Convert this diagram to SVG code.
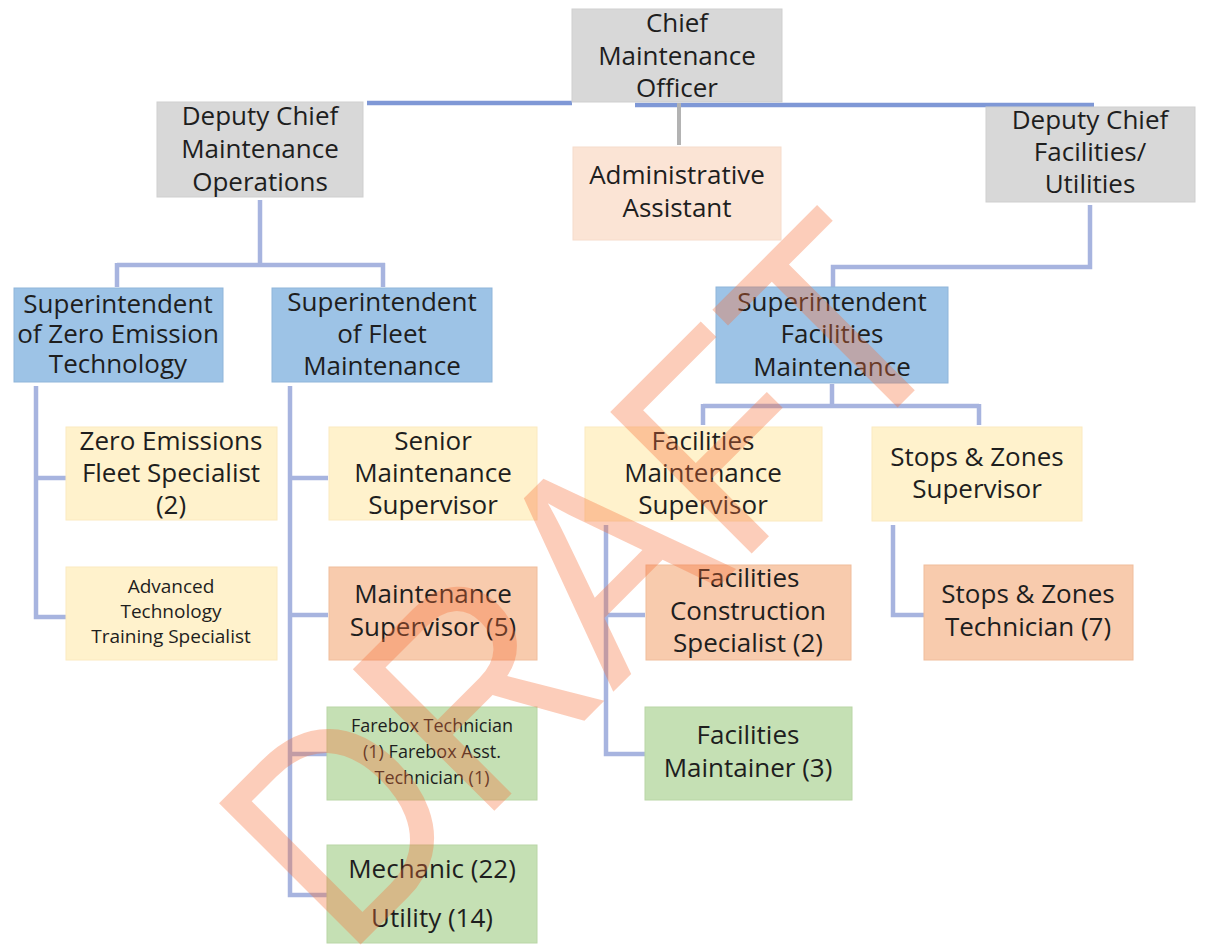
<svg xmlns="http://www.w3.org/2000/svg" width="1205" height="947" viewBox="0 0 1205 947">
<style>
.bx{stroke-width:1}
.gray{fill:#d8d8d8;stroke:#cfcfcf}
.blue{fill:#9dc3e6;stroke:#8fb5da}
.peach{fill:#fbe4d5;stroke:#f6dccb}
.yel{fill:#fff2cc;stroke:#fbeac0}
.org{fill:#f8cbad;stroke:#f0bd9c}
.grn{fill:#c5e0b4;stroke:#b9d6a6}
text{font-family:"Open Sans","Noto Sans","Liberation Sans",sans-serif;fill:#1e1e1e;text-anchor:middle}
.t{font-size:26px}
.s{font-size:19px}
.fs{font-size:18px}
.c{fill:none;stroke:#a7b4df;stroke-width:4.5}
.ct{fill:none;stroke:#7f98d6;stroke-width:4.5}
.cg{fill:none;stroke:#b3b3b3;stroke-width:4}
.wm{font-family:"Liberation Sans",Arial,sans-serif;font-size:262px;fill:#f7703a;fill-opacity:0.35;text-anchor:middle}
</style>
<rect width="1205" height="947" fill="#ffffff"/>
<g id="connectors">
<path class="ct" d="M367 103 H572"/>
<path class="ct" d="M635 105 H1094"/>
<path class="cg" d="M679 103 V145"/>
<path class="c" d="M260 200 V265 M117 265 H385 M117 263 V287 M383 263 V287"/>
<path class="c" d="M1090 205 V267 H833 V287"/>
<path class="c" d="M36 386 V617 H66 M36 478 H66"/>
<path class="c" d="M290 386 V895 H327 M290 478 H328 M290 615 H328 M290 754 H327"/>
<path class="c" d="M832 384 V406 M703 406 H979 M703 404 V425 M979 404 V425"/>
<path class="c" d="M606 525 V754 H645 M606 615 H645"/>
<path class="c" d="M893 525 V615 H924"/>
</g>
<g id="chief">
<rect class="bx gray" x="572" y="9" width="210" height="93"/>
<text class="t" x="677" y="32">Chief</text>
<text class="t" x="677" y="65">Maintenance</text>
<text class="t" x="677" y="97">Officer</text>
</g>
<g id="deputy-ops">
<rect class="bx gray" x="157" y="102" width="206" height="95"/>
<text class="t" x="260" y="125">Deputy Chief</text>
<text class="t" x="260" y="158">Maintenance</text>
<text class="t" x="260" y="191">Operations</text>
</g>
<g id="admin">
<rect class="bx peach" x="573" y="147" width="208" height="93"/>
<text class="t" x="677" y="184">Administrative</text>
<text class="t" x="677" y="217">Assistant</text>
</g>
<g id="deputy-fac">
<rect class="bx gray" x="986" y="107" width="209" height="95"/>
<text class="t" x="1090" y="129">Deputy Chief</text>
<text class="t" x="1090" y="161">Facilities/</text>
<text class="t" x="1090" y="193">Utilities</text>
</g>
<g id="sup-ze">
<rect class="bx blue" x="14" y="288" width="209" height="94"/>
<text class="t" x="118" y="313">Superintendent</text>
<text class="t" x="118" y="343">of Zero Emission</text>
<text class="t" x="118" y="373">Technology</text>
</g>
<g id="sup-fleet">
<rect class="bx blue" x="272" y="288" width="220" height="94"/>
<text class="t" x="382" y="311">Superintendent</text>
<text class="t" x="382" y="343">of Fleet</text>
<text class="t" x="382" y="375">Maintenance</text>
</g>
<g id="sup-fac">
<rect class="bx blue" x="716" y="287" width="232" height="96"/>
<text class="t" x="832" y="311">Superintendent</text>
<text class="t" x="832" y="343">Facilities</text>
<text class="t" x="832" y="376">Maintenance</text>
</g>
<g id="ze-fleet-spec">
<rect class="bx yel" x="66" y="427" width="211" height="93"/>
<text class="t" x="171" y="450">Zero Emissions</text>
<text class="t" x="171" y="482">Fleet Specialist</text>
<text class="t" x="171" y="514">(2)</text>
</g>
<g id="adv-tech">
<rect class="bx yel" x="66" y="567" width="211" height="93"/>
<text class="s" x="171" y="593">Advanced</text>
<text class="s" x="171" y="618">Technology</text>
<text class="s" x="171" y="643">Training Specialist</text>
</g>
<g id="senior-maint-sup">
<rect class="bx yel" x="329" y="427" width="208" height="93"/>
<text class="t" x="433" y="450">Senior</text>
<text class="t" x="433" y="482">Maintenance</text>
<text class="t" x="433" y="514">Supervisor</text>
</g>
<g id="maint-sup">
<rect class="bx org" x="329" y="567" width="208" height="93"/>
<text class="t" x="433" y="603">Maintenance</text>
<text class="t" x="433" y="636">Supervisor (5)</text>
</g>
<g id="farebox">
<rect class="bx grn" x="327" y="707" width="210" height="93"/>
<text class="fs" x="432" y="732">Farebox Technician</text>
<text class="fs" x="432" y="758">(1) Farebox Asst.</text>
<text class="fs" x="432" y="784">Technician (1)</text>
</g>
<g id="mechanic">
<rect class="bx grn" x="327" y="845" width="210" height="98"/>
<text class="t" x="432" y="878">Mechanic (22)</text>
<text class="t" x="432" y="927">Utility (14)</text>
</g>
<g id="fac-maint-sup">
<rect class="bx yel" x="585" y="427" width="237" height="94"/>
<text class="t" x="703" y="450">Facilities</text>
<text class="t" x="703" y="482">Maintenance</text>
<text class="t" x="703" y="514">Supervisor</text>
</g>
<g id="stops-sup">
<rect class="bx yel" x="872" y="427" width="210" height="94"/>
<text class="t" x="977" y="466">Stops &amp; Zones</text>
<text class="t" x="977" y="498">Supervisor</text>
</g>
<g id="fac-construction">
<rect class="bx org" x="646" y="565" width="205" height="95"/>
<text class="t" x="748" y="587">Facilities</text>
<text class="t" x="748" y="620">Construction</text>
<text class="t" x="748" y="652">Specialist (2)</text>
</g>
<g id="stops-tech">
<rect class="bx org" x="924" y="565" width="209" height="95"/>
<text class="t" x="1028" y="603">Stops &amp; Zones</text>
<text class="t" x="1028" y="636">Technician (7)</text>
</g>
<g id="fac-maintainer">
<rect class="bx grn" x="645" y="707" width="207" height="93"/>
<text class="t" x="748" y="744">Facilities</text>
<text class="t" x="748" y="777">Maintainer (3)</text>
</g>
<g id="watermark">
<text class="wm" x="0" y="9" transform="translate(647 644) rotate(-45) scale(1 1.11)">DRAFT</text>
</g>
</svg>
